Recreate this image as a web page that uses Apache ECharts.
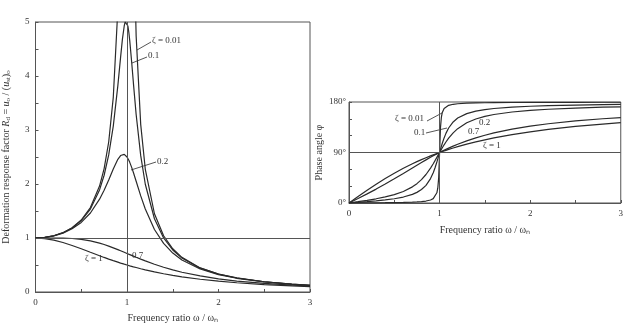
<!DOCTYPE html>
<html lang="en">
<head>
<meta charset="UTF-8">
<title>Deformation response and phase angle</title>
<script src="https://cdn.jsdelivr.net/npm/echarts@6/dist/echarts.min.js"></script>
<style>
  html, body { margin: 0; padding: 0; background: #fff; }
  #chart { width: 626px; height: 328px; }
</style>
</head>
<body>
<div id="chart"></div>
<script>
// frequency ratio (omega / omega_n) sample points
var ratio = [0, 0.1, 0.2, 0.3, 0.4, 0.5, 0.6, 0.7, 0.75, 0.8, 0.85, 0.9, 0.93, 0.95, 0.97, 0.98, 0.99, 1,
  1.01, 1.02, 1.03, 1.05, 1.07, 1.1, 1.15, 1.2, 1.3, 1.4, 1.5, 1.6, 1.8, 2, 2.2, 2.5, 2.8, 3];

// deformation response factor Rd, one list per damping ratio
var rd001 = [1, 1.010, 1.042, 1.099, 1.190, 1.333, 1.563, 1.961, 2.286, 2.778, 3.604, 5.24, 7.33, 10.07, 16.08, 22.6, 35.6, 50,
  35.1, 22.1, 15.6, 9.56, 6.83, 4.74, 3.099, 2.272, 1.449, 1.042, 0.800, 0.641, 0.446, 0.333, 0.260, 0.190, 0.146, 0.125];
var rd01 = [1, 1.010, 1.041, 1.097, 1.185, 1.322, 1.536, 1.891, 2.162, 2.538, 3.073, 3.821, 4.350, 4.683, 4.931, 5.001, 5.025, 5.0,
  4.926, 4.809, 4.655, 4.279, 3.869, 3.288, 2.525, 1.995, 1.356, 1.0, 0.778, 0.628, 0.441, 0.330, 0.259, 0.190, 0.146, 0.125];
var rd02 = [1, 1.009, 1.038, 1.090, 1.170, 1.288, 1.463, 1.719, 1.885, 2.076, 2.279, 2.457, 2.527, 2.549, 2.548, 2.538, 2.522, 2.5,
  2.472, 2.439, 2.401, 2.313, 2.213, 2.051, 1.780, 1.536, 1.157, 0.900, 0.721, 0.593, 0.425, 0.322, 0.254, 0.187, 0.144, 0.124];
var rd07 = [1, 1.000, 1.0, 0.998, 0.991, 0.975, 0.947, 0.905, 0.879, 0.850, 0.818, 0.785, 0.764, 0.750, 0.736, 0.729, 0.721, 0.714,
  0.707, 0.700, 0.693, 0.679, 0.665, 0.643, 0.609, 0.576, 0.514, 0.458, 0.409, 0.366, 0.297, 0.244, 0.203, 0.159, 0.127, 0.111];
var rd1 = [1, 0.990, 0.962, 0.917, 0.862, 0.8, 0.735, 0.671, 0.64, 0.610, 0.581, 0.553, 0.536, 0.526, 0.515, 0.510, 0.505, 0.5,
  0.495, 0.490, 0.485, 0.476, 0.466, 0.453, 0.431, 0.410, 0.372, 0.338, 0.308, 0.281, 0.236, 0.2, 0.171, 0.138, 0.113, 0.1];

// phase angle (degrees), one list per damping ratio
var ph001 = [0, 0.12, 0.24, 0.38, 0.55, 0.76, 1.07, 1.57, 1.96, 2.55, 3.51, 5.41, 7.84, 11.03, 18.17, 26.33, 44.86, 90,
  134.86, 153.21, 161.31, 168.42, 171.6, 174.02, 175.92, 176.88, 177.84, 178.33, 178.63, 178.83, 179.08, 179.24, 179.34, 179.45, 179.53, 179.57];
var ph01 = [0, 1.16, 2.39, 3.77, 5.44, 7.59, 10.62, 15.35, 18.92, 23.96, 31.49, 43.45, 54.01, 62.83, 73.06, 78.58, 84.26, 90,
  95.68, 101.2, 106.47, 116.01, 124.1, 133.67, 144.5, 151.39, 159.35, 163.74, 166.5, 168.41, 170.87, 172.41, 173.46, 174.56, 175.32, 175.71];
var ph02 = [0, 2.31, 4.76, 7.51, 10.78, 14.93, 20.56, 28.77, 34.44, 41.63, 50.78, 62.18, 70.04, 75.61, 81.34, 84.23, 87.12, 90,
  92.85, 95.65, 98.41, 103.71, 108.71, 115.51, 125.03, 132.51, 143.0, 149.74, 154.36, 157.69, 162.18, 165.07, 167.09, 169.22, 170.7, 171.47];
var ph07 = [0, 8.05, 16.26, 24.78, 33.69, 43.03, 52.7, 62.51, 67.38, 72.18, 76.87, 81.42, 84.08, 85.81, 87.51, 88.35, 89.18, 90,
  90.81, 91.62, 92.42, 93.99, 95.52, 97.77, 101.33, 104.68, 110.76, 116.09, 120.76, 124.85, 131.63, 136.97, 141.27, 146.31, 150.18, 152.3];
var ph1 = [0, 11.42, 22.62, 33.4, 43.6, 53.13, 61.93, 70.0, 73.74, 77.32, 80.73, 83.97, 85.85, 87.06, 88.26, 88.84, 89.42, 90,
  90.57, 91.13, 91.69, 92.79, 93.87, 95.45, 97.98, 100.39, 104.86, 108.92, 112.62, 115.99, 121.89, 126.87, 131.11, 136.4, 140.69, 143.13];

var xTicks = [0, 1, 2, 3];
var rdTicks = [0, 1, 2, 3, 4, 5];
var phaseTicks = [0, 90, 180];

var serif = 'Liberation Serif';
var ink = '#2a2a2a';
var frame = '#555';

function pairs(ys) {
  return ratio.map(function (x, i) { return [x, ys[i]]; });
}

function curve(ys, idx) {
  return {
    type: 'line', xAxisIndex: idx, yAxisIndex: idx, data: pairs(ys),
    showSymbol: false, symbol: 'none', clip: true, smooth: false,
    lineStyle: { color: ink, width: 1.2 }, silent: true, animation: false
  };
}

function xAxisFor(idx, gap) {
  return {
    type: 'value', gridIndex: idx, min: 0, max: 3, interval: 0.5,
    name: 'Frequency ratio ω / ωₙ', nameLocation: 'middle', nameGap: gap,
    nameTextStyle: { fontFamily: serif, fontSize: 10, color: '#333' },
    axisLine: { lineStyle: { color: frame, width: 1 } },
    axisTick: { inside: true, length: 3, lineStyle: { color: frame } },
    axisLabel: {
      fontFamily: serif, fontSize: 9, color: '#333', margin: 6,
      formatter: function (v) { return xTicks.indexOf(v) >= 0 ? String(v) : ''; }
    },
    splitLine: { show: false }
  };
}

var option = {
  animation: false,
  grid: [
    { left: 35, top: 22, width: 275, height: 276, show: true, borderColor: frame, borderWidth: 1 },
    { left: 349, top: 102, width: 276, height: 101, show: true, borderColor: frame, borderWidth: 1 }
  ],
  xAxis: [xAxisFor(0, 21), xAxisFor(1, 22)],
  yAxis: [
    {
      type: 'value', gridIndex: 0, min: 0, max: 5, interval: 0.5,
      name: '{n|Deformation response factor }{i|R}{s|d}{n| = }{i|u}{s|o}{n| / (}{i|u}{s|st}{n|)}{s|o}',
      nameLocation: 'middle', nameGap: 24,
      nameTextStyle: {
        rich: {
          n: { fontFamily: serif, fontSize: 10, color: '#333' },
          i: { fontFamily: serif, fontSize: 10, fontStyle: 'italic', color: '#333' },
          s: { fontFamily: serif, fontSize: 7, color: '#333', padding: [4, 0, 0, 0] }
        }
      },
      axisLine: { lineStyle: { color: frame } },
      axisTick: { inside: true, length: 3, lineStyle: { color: frame } },
      axisLabel: {
        fontFamily: serif, fontSize: 9, color: '#333', margin: 6,
        formatter: function (v) { return rdTicks.indexOf(v) >= 0 ? String(v) : ''; }
      },
      splitLine: { show: false }
    },
    {
      type: 'value', gridIndex: 1, min: 0, max: 180, interval: 30,
      name: 'Phase angle φ', nameLocation: 'middle', nameGap: 25,
      nameTextStyle: { fontFamily: serif, fontSize: 10, color: '#333' },
      axisLine: { lineStyle: { color: frame } },
      axisTick: { inside: true, length: 3, lineStyle: { color: frame } },
      axisLabel: {
        fontFamily: serif, fontSize: 9, color: '#333', margin: 3,
        formatter: function (v) { return phaseTicks.indexOf(v) >= 0 ? v + '°' : ''; }
      },
      splitLine: { show: false }
    }
  ],
  series: [
    curve(rd001, 0), curve(rd01, 0), curve(rd02, 0), curve(rd07, 0), curve(rd1, 0),
    {
      type: 'line', xAxisIndex: 0, yAxisIndex: 0, data: [], silent: true,
      markLine: {
        silent: true, symbol: 'none', label: { show: false }, animation: false,
        lineStyle: { color: frame, type: 'solid', width: 1 },
        data: [{ yAxis: 1 }, { xAxis: 1 }]
      }
    },
    curve(ph001, 1), curve(ph01, 1), curve(ph02, 1), curve(ph07, 1), curve(ph1, 1),
    {
      type: 'line', xAxisIndex: 1, yAxisIndex: 1, data: [], silent: true,
      markLine: {
        silent: true, symbol: 'none', label: { show: false }, animation: false,
        lineStyle: { color: frame, type: 'solid', width: 1 },
        data: [{ yAxis: 90 }, { xAxis: 1 }]
      }
    }
  ],
  graphic: [
    // left panel annotations
    { type: 'text', left: 152, top: 36, style: { text: 'ζ = 0.01', font: '9px "Liberation Serif"', fill: '#333' } },
    { type: 'line', shape: { x1: 137, y1: 50, x2: 151, y2: 42 }, style: { stroke: ink, lineWidth: 0.8 } },
    { type: 'text', left: 148, top: 51, style: { text: '0.1', font: '9px "Liberation Serif"', fill: '#333' } },
    { type: 'line', shape: { x1: 132, y1: 63, x2: 147, y2: 57 }, style: { stroke: ink, lineWidth: 0.8 } },
    { type: 'text', left: 157, top: 157, style: { text: '0.2', font: '9px "Liberation Serif"', fill: '#333' } },
    { type: 'line', shape: { x1: 131, y1: 170, x2: 156, y2: 162 }, style: { stroke: ink, lineWidth: 0.8 } },
    { type: 'text', left: 132, top: 251, style: { text: '0.7', font: '9px "Liberation Serif"', fill: '#333' } },
    { type: 'text', left: 85, top: 254, style: { text: 'ζ = 1', font: '9px "Liberation Serif"', fill: '#333' } },
    // right panel annotations
    { type: 'text', left: 395, top: 114, style: { text: 'ζ = 0.01', font: '9px "Liberation Serif"', fill: '#333' } },
    { type: 'line', shape: { x1: 427, y1: 121, x2: 442, y2: 113 }, style: { stroke: ink, lineWidth: 0.8 } },
    { type: 'text', left: 414, top: 128, style: { text: '0.1', font: '9px "Liberation Serif"', fill: '#333' } },
    { type: 'line', shape: { x1: 426, y1: 133, x2: 447, y2: 128 }, style: { stroke: ink, lineWidth: 0.8 } },
    { type: 'text', left: 479, top: 118, style: { text: '0.2', font: '9px "Liberation Serif"', fill: '#333' } },
    { type: 'text', left: 468, top: 127, style: { text: '0.7', font: '9px "Liberation Serif"', fill: '#333' } },
    { type: 'text', left: 483, top: 141, style: { text: 'ζ = 1', font: '9px "Liberation Serif"', fill: '#333' } }
  ]
};

var chart = echarts.init(document.getElementById('chart'));
chart.setOption(option);
</script>
</body>
</html>
